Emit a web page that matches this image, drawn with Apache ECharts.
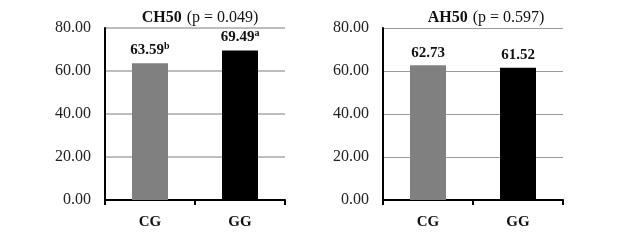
<!DOCTYPE html>
<html><head><meta charset="utf-8">
<script src="https://cdn.jsdelivr.net/npm/echarts@6/dist/echarts.min.js"></script>
<style>html,body{margin:0;padding:0;background:#fff}#c{width:624px;height:240px}</style>
</head><body><div id="c"></div>
<script>
const categories = ['CG', 'GG'];
const ch50Values = [63.59, 69.49];
const ch50Sup = ['b', 'a'];
const ah50Values = [62.73, 61.52];
const ah50Sup = ['', ''];
const yTicks = [0, 20, 40, 60, 80];
const barColors = ['#808080', '#000000'];
const titles = [['CH50', '(p = 0.049)'], ['AH50', '(p = 0.597)']];

const FONT = '"Liberation Serif", "DejaVu Serif", serif';
const chart = echarts.init(document.getElementById('c'), null, {renderer: 'canvas'});

const grids = [
  {left: 105, width: 180, top: 28, height: 172},
  {left: 383, width: 180, top: 28, height: 172}
];

function mkSeries(idx, vals, sups) {
  return {
    type: 'bar', xAxisIndex: idx, yAxisIndex: idx, barWidth: '40%',
    data: vals.map((v, i) => ({value: v, itemStyle: {color: barColors[i]}, sup: sups[i]})),
    label: {
      show: true, position: 'top', distance: 5,
      formatter: p => '{v|' + p.value.toFixed(2) + '}' + (p.data.sup ? '{s|' + p.data.sup + '}' : ''),
      rich: {
        v: {fontFamily: FONT, fontWeight: 'bold', fontSize: 15, color: '#111'},
        s: {fontFamily: FONT, fontWeight: 'bold', fontSize: 10, color: '#111', verticalAlign: 'top', padding: [0, 0, 7, 0]}
      }
    }
  };
}

const option = {
  animation: false,
  title: titles.map((t, i) => ({
    text: '{b|' + t[0] + '} {r|' + t[1] + '}',
    left: (i === 0 ? 195 : 481), top: 4, textAlign: 'center',
    textStyle: {fontWeight: 'normal', rich: {
      b: {fontFamily: FONT, fontWeight: 'bold', fontSize: 16, color: '#111'},
      r: {fontFamily: FONT, fontWeight: 'normal', fontSize: 16, color: '#111'}
    }}
  })),
  grid: grids,
  xAxis: [0, 1].map(i => ({
    type: 'category', gridIndex: i, data: categories,
    axisLine: {lineStyle: {color: '#000', width: 2}},
    axisTick: {show: true, length: 5, lineStyle: {color: '#000', width: 2}},
    axisLabel: {fontFamily: FONT, fontWeight: 'bold', fontSize: 15, color: '#111', margin: 15}
  })),
  yAxis: [0, 1].map(i => ({
    type: 'value', gridIndex: i, min: yTicks[0], max: yTicks[yTicks.length - 1], interval: 20,
    axisLine: {show: true, lineStyle: {color: '#000', width: 2}},
    axisTick: {show: false},
    splitLine: {lineStyle: {color: i === 0 ? '#bdbdbd' : '#9a9a9a', width: i === 0 ? 2 : 1}},
    axisLabel: {fontFamily: FONT, fontSize: 16, color: '#222', margin: 14, formatter: v => v.toFixed(2)}
  })),
  series: [mkSeries(0, ch50Values, ch50Sup), mkSeries(1, ah50Values, ah50Sup)]
};
chart.setOption(option);
</script></body></html>
